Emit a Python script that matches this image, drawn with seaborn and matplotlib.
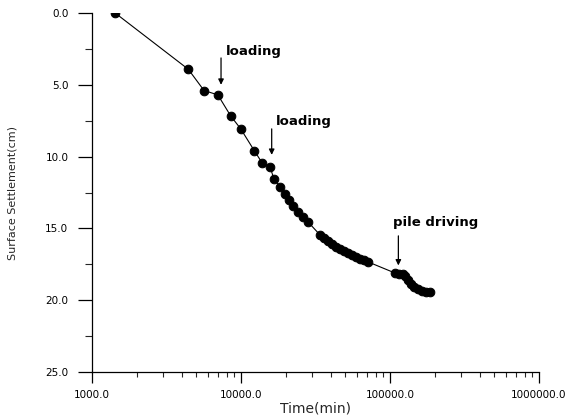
import matplotlib
matplotlib.use("Agg")
import matplotlib.pyplot as plt
import matplotlib.ticker as mticker
import numpy as np
import pandas as pd
import seaborn as sns

# Surface settlement record versus elapsed time (log scale)
time_min = [1430, 4430, 5650, 6990, 8530, 9960, 12270, 13900, 15670, 16630,
            18270, 19730, 21090, 22430, 24240, 26200, 28290, 33880, 36040, 38360,
            40820, 43430, 46160, 49110, 52240, 55590, 59140, 62930, 66850, 71120,
            108200, 114900, 122200, 126200, 132200, 138400, 144900, 154200,
            163900, 174400, 185500]
settlement_cm = [0.0, 3.92, 5.40, 5.70, 7.17, 8.07, 9.58, 10.46, 10.70, 11.57,
                 12.09, 12.60, 13.01, 13.41, 13.83, 14.22, 14.57, 15.45, 15.69, 15.90,
                 16.11, 16.28, 16.46, 16.60, 16.74, 16.88, 17.00, 17.12, 17.22, 17.33,
                 18.11, 18.15, 18.16, 18.30, 18.58, 18.86, 19.07, 19.24,
                 19.35, 19.42, 19.46]

# Construction events: label, arrow time, arrow start/end settlement, text anchor
event_labels = ["loading", "loading", "pile driving"]
event_time = [7345, 16070, 113800]
event_from = [3.13, 8.07, 15.52]
event_to = [5.0, 9.88, 17.58]
event_text_x = [7925, 17180, 105200]
event_text_y = [2.71, 7.59, 14.59]

x_ticks = [1000, 10000, 100000, 1000000]
x_ticklabels = ["1000.0", "10000.0", "100000.0", "1000000.0"]
y_ticks = [0, 5, 10, 15, 20, 25]
y_ticklabels = ["0.0", "5.0", "10.0", "15.0", "20.0", "25.0"]

sns.set_style("ticks")
plt.rcParams["font.family"] = ["DejaVu Sans"]

df = pd.DataFrame({"Time(min)": time_min, "Settlement": settlement_cm})

fig = plt.figure(figsize=(5.7, 4.16), dpi=100)
ax = fig.add_axes([92 / 570, 1 - 372 / 416, 447 / 570, 359 / 416])

sns.lineplot(data=df, x="Time(min)", y="Settlement", ax=ax, sort=False,
             estimator=None, color="black", linewidth=0.8, marker="o",
             markersize=6.2, markeredgecolor="black", markerfacecolor="black")

ax.set_xscale("log")
ax.set_xlim(1000, 1000000)
ax.set_ylim(25, 0)

ax.xaxis.set_major_locator(mticker.FixedLocator(x_ticks))
ax.xaxis.set_major_formatter(mticker.FixedFormatter(x_ticklabels))
ax.xaxis.set_minor_locator(mticker.LogLocator(base=10, subs=np.arange(2, 10)))
ax.xaxis.set_minor_formatter(mticker.NullFormatter())

ax.yaxis.set_major_locator(mticker.FixedLocator(y_ticks))
ax.yaxis.set_major_formatter(mticker.FixedFormatter(y_ticklabels))
ax.yaxis.set_minor_locator(mticker.MultipleLocator(2.5))

ax.tick_params(axis="x", which="major", direction="out", length=8, width=0.9,
               pad=5, labelsize=7.5, colors="black")
ax.tick_params(axis="x", which="minor", direction="out", length=3.5, width=0.8)
ax.tick_params(axis="y", which="major", direction="out", length=10, width=0.9,
               pad=7, labelsize=7.5, colors="black")
ax.tick_params(axis="y", which="minor", direction="out", length=5, width=0.8)

for side in ("top", "right"):
    ax.spines[side].set_visible(False)
for side in ("left", "bottom"):
    ax.spines[side].set_color("black")
    ax.spines[side].set_linewidth(0.9)

ax.set_xlabel("Time(min)", fontsize=10)
ax.set_ylabel("Surface Settlement(cm)", fontsize=8)
ax.xaxis.set_label_coords(0.5, -0.083)
ax.yaxis.set_label_coords(-0.166, 0.5)

for label, tx, y0, y1, lx, ly in zip(event_labels, event_time, event_from,
                                     event_to, event_text_x, event_text_y):
    ax.annotate("", xy=(tx, y1), xytext=(tx, y0),
                arrowprops=dict(arrowstyle="-|>", color="black", lw=0.9,
                                mutation_scale=8, shrinkA=0, shrinkB=0))
    ax.text(lx, ly, label, fontsize=9.5, fontweight="bold", ha="left",
            va="center", color="black")

fig.savefig("out.png", dpi=100)
